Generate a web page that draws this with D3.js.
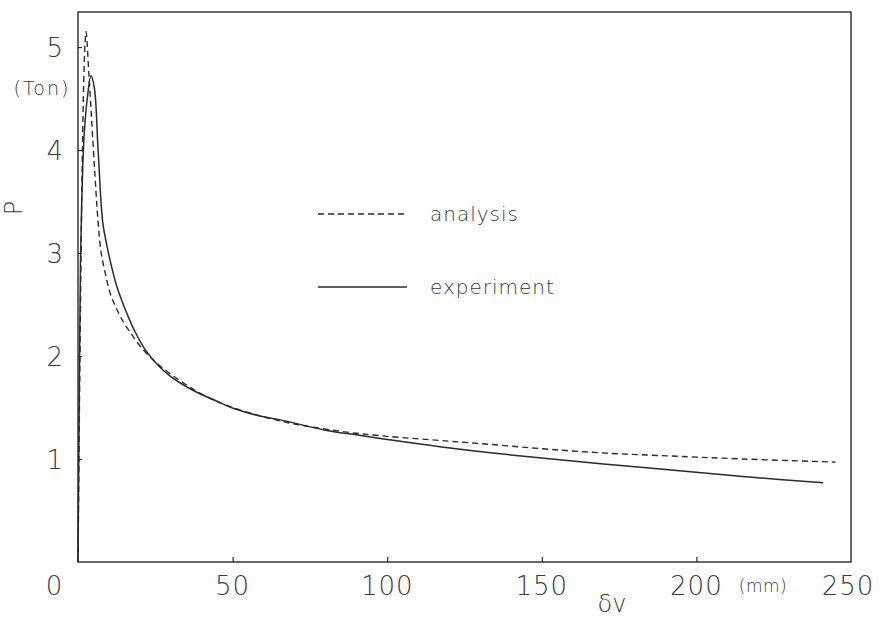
<!DOCTYPE html>
<html>
<head>
<meta charset="utf-8">
<script src="https://cdn.jsdelivr.net/npm/d3@7"></script>
<style>
  html, body { margin: 0; padding: 0; background: #fff; }
  svg text { font-family: "DejaVu Sans", "Liberation Sans", sans-serif; font-weight: 200; fill: #3a3a3a; }
</style>
</head>
<body>
<svg id="chart" width="884" height="629"></svg>
<script>
// ---- data ----
const xTicks = [50, 100, 150, 200];
const xTickLabels = ["50", "100", "150", "200"];
const yTicks = [1, 2, 3, 4, 5];
const yTickLabels = ["1", "2", "3", "4", "5"];

// analysis (dashed)
const analysisX = [0, 0.6, 1.2, 1.8, 2.3, 2.6, 3.5, 4.5, 5.5, 6.5, 7.5, 9, 10.5, 12.3, 14.5, 17.1, 20, 24, 28, 33, 40, 50, 60, 70, 80, 90, 100, 117, 130, 150, 169, 191, 215, 245];
const analysisY = [0, 1.9, 3.5, 4.6, 5.05, 5.15, 4.75, 4.25, 3.75, 3.3, 3.0, 2.78, 2.6, 2.47, 2.34, 2.22, 2.1, 1.97, 1.87, 1.76, 1.63, 1.5, 1.41, 1.34, 1.29, 1.25, 1.22, 1.18, 1.15, 1.1, 1.06, 1.03, 1.0, 0.97];

// experiment (solid)
const experimentX = [0, 0.4, 0.8, 1.3, 2, 3, 4.2, 5.3, 6.5, 8, 9.5, 11, 12.5, 14.4, 16, 18.2, 22, 26.2, 30, 37, 45, 50.4, 60, 65.5, 80, 91, 100, 117, 140, 169, 191, 215, 241];
const experimentY = [0, 1.6, 2.9, 3.6, 4.15, 4.5, 4.72, 4.6, 4.0, 3.3, 3.05, 2.85, 2.68, 2.52, 2.4, 2.25, 2.05, 1.9, 1.8, 1.67, 1.56, 1.49, 1.41, 1.38, 1.28, 1.23, 1.19, 1.12, 1.04, 0.955, 0.895, 0.83, 0.77];

const legendLabels = ["analysis", "experiment"];

// ---- drawing ----
const svg = d3.select("#chart");
const x = d3.scaleLinear().domain([0, 250]).range([78, 851]);
const y = d3.scaleLinear().domain([0, 5.34]).range([562, 12]);
const ink = "#2a2a2a";

// frame
svg.append("rect")
  .attr("x", x(0)).attr("y", y(5.34))
  .attr("width", x(250) - x(0)).attr("height", y(0) - y(5.34))
  .attr("fill", "none").attr("stroke", ink).attr("stroke-width", 1.4);

// x axis (inward ticks)
const xAxis = d3.axisTop(x).tickValues(xTicks).tickSize(5).tickFormat("");
svg.append("g").attr("transform", `translate(0,${y(0)})`).call(xAxis)
  .call(g => g.select(".domain").remove())
  .call(g => g.selectAll("line").attr("stroke", ink).attr("stroke-width", 1.2));

// y axis (inward ticks)
const yAxis = d3.axisRight(y).tickValues(yTicks).tickSize(4).tickFormat("");
svg.append("g").attr("transform", `translate(${x(0)},0)`).call(yAxis)
  .call(g => g.select(".domain").remove())
  .call(g => g.selectAll("line").attr("stroke", ink).attr("stroke-width", 1.2));

// x tick labels
svg.append("g").selectAll("text").data(xTicks).join("text")
  .attr("x", d => x(d)).attr("y", 595)
  .attr("text-anchor", "middle").attr("font-size", 26).attr("letter-spacing", 1)
  .text((d, i) => xTickLabels[i]);
svg.append("text").attr("x", 54).attr("y", 595).attr("text-anchor", "middle")
  .attr("font-size", 26).text("0");
svg.append("text").attr("x", 848).attr("y", 595).attr("text-anchor", "middle")
  .attr("font-size", 26).attr("letter-spacing", 1).text("250");
svg.append("text").attr("x", 763).attr("y", 592).attr("text-anchor", "middle")
  .attr("font-size", 17).attr("letter-spacing", 0.5).text("(mm)");
svg.append("text").attr("x", 612).attr("y", 612).attr("text-anchor", "middle")
  .attr("font-size", 24).text("δv");

// y tick labels
svg.append("g").selectAll("text").data(yTicks).join("text")
  .attr("x", 63).attr("y", d => y(d) + 10)
  .attr("text-anchor", "end").attr("font-size", 26)
  .text((d, i) => yTickLabels[i]);
svg.append("text").attr("x", 42).attr("y", 95).attr("text-anchor", "middle")
  .attr("font-size", 19).attr("letter-spacing", 2).text("(Ton)");
svg.append("text").attr("transform", "translate(22,208) rotate(-90)")
  .attr("text-anchor", "middle").attr("font-size", 24).text("P");

// curves
const lineNM = d3.line().x(d => x(d[0])).y(d => y(d[1])).curve(d3.curveCatmullRom.alpha(0.5));
const aData = analysisX.map((v, i) => [v, analysisY[i]]);
const eData = experimentX.map((v, i) => [v, experimentY[i]]);

svg.append("path").attr("d", lineNM(aData)).attr("fill", "none")
  .attr("stroke", ink).attr("stroke-width", 1.4).attr("stroke-dasharray", "6,4");
svg.append("path").attr("d", lineNM(eData)).attr("fill", "none")
  .attr("stroke", ink).attr("stroke-width", 1.5);

// legend
const legY = [214, 287];
const leg = svg.append("g");
leg.selectAll("line").data(legendLabels).join("line")
  .attr("x1", 318).attr("x2", 407)
  .attr("y1", (d, i) => legY[i]).attr("y2", (d, i) => legY[i])
  .attr("stroke", ink).attr("stroke-width", 1.4)
  .attr("stroke-dasharray", (d, i) => i === 0 ? "6,4" : null);
leg.selectAll("text").data(legendLabels).join("text")
  .attr("x", 430).attr("y", (d, i) => legY[i] + 7)
  .attr("font-size", 20).attr("letter-spacing", 1)
  .text(d => d);
</script>
</body>
</html>
